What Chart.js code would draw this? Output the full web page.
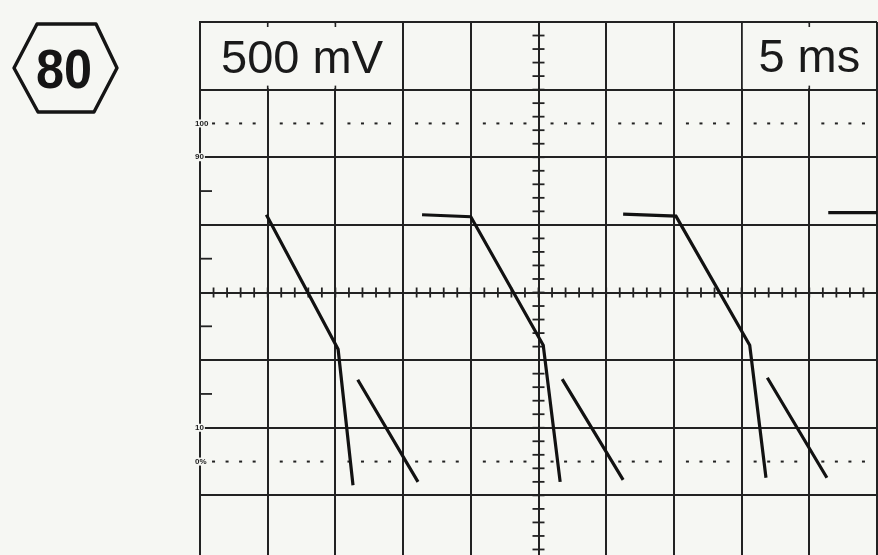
<!DOCTYPE html>
<html><head><meta charset="utf-8">
<script src="https://cdn.jsdelivr.net/npm/chart.js@4.4.1/dist/chart.umd.min.js"></script>
<style>
html,body{margin:0;padding:0;background:#f6f7f3;overflow:hidden;width:878px;height:555px;}
canvas{display:block;}
</style></head><body>
<canvas id="c" width="878" height="600"></canvas>
<script>
// Scope header labels
const voltsPerDiv = "500 mV";
const timePerDiv = "5 ms";
const badgeLabel = "80";
// Graticule: 10 horizontal divisions x 8 vertical divisions
const xDivMin = 0, xDivMax = 10;
const yDivMin = 0, yDivMax = 8;
// Rise-time graticule labels and their levels (divisions)
const riseLabels = ["100", "90", "10", "0%"];
const riseLevels = [6.5, 6, 2, 1.5];
// Trace: time (div) and voltage (div); null = beam blanked
const traceTime = [0.98, 2.04, 2.26, null, 2.33, 3.22, null, 3.28, 4.00, 5.07, 5.32, null, 5.35, 6.25, null, 6.25, 7.03, 8.12, 8.36, null, 8.38, 9.26, null, 9.28, 10.0];
const traceVolt = [5.15, 3.16, 1.15, null, 2.71, 1.20, null, 5.15, 5.12, 3.22, 1.20, null, 2.72, 1.23, null, 5.16, 5.13, 3.22, 1.26, null, 2.74, 1.26, null, 5.18, 5.18];

const BG = '#f6f7f3';
const INK = '#222222';

const tracePoints = traceTime.map((t, i) => ({ x: t, y: traceVolt[i] }));

function seg(ctx, x1, y1, x2, y2) { ctx.beginPath(); ctx.moveTo(x1, y1); ctx.lineTo(x2, y2); ctx.stroke(); }

const graticule = {
  id: 'graticule',
  beforeDatasetsDraw(chart) {
    const { ctx, scales: { x, y } } = chart;
    const px = v => x.getPixelForValue(v), py = v => y.getPixelForValue(v);
    ctx.save();
    // header boxes (inner grid lines blanked)
    ctx.fillStyle = BG;
    [[0, 3], [8, 10]].forEach(([a, b]) => {
      ctx.fillRect(px(a) + 1.2, py(8) + 1.2, px(b) - px(a) - 2.4, py(7) - py(8) - 2.4);
    });
    ctx.strokeStyle = INK; ctx.lineWidth = 1.6;
    [1, 2, 9].forEach(v => { seg(ctx, px(v), py(8), px(v), py(8) + 5); seg(ctx, px(v), py(7), px(v), py(7) - 4); });
    // centre-line minor ticks
    ctx.lineWidth = 1.8;
    for (let k = 0; k <= 50; k++) { const X = px(k * 0.2); seg(ctx, X, py(4) - 5, X, py(4) + 5); }
    for (let k = 0; k <= 40; k++) { const Y = py(k * 0.2); seg(ctx, px(5) - 6, Y, px(5) + 6, Y); }
    // left border half-division marks
    [5.5, 4.5, 3.5, 2.5].forEach(v => seg(ctx, px(0), py(v), px(0) + 12, py(v)));
    // dotted rise-time lines
    ctx.fillStyle = INK;
    [riseLevels[0], riseLevels[3]].forEach(lv => {
      const Y = py(lv);
      for (let k = 1; k < 50; k++) { if (k % 5 === 0) continue; const X = px(k * 0.2); ctx.fillRect(X - 1.5, Y - 1, 3, 2); }
    });
    // rise-time labels
    ctx.font = 'bold 8px "Liberation Sans", Arial, sans-serif';
    ctx.textAlign = 'left'; ctx.textBaseline = 'middle';
    riseLabels.forEach((t, i) => {
      const Y = py(riseLevels[i]);
      const w = ctx.measureText(t).width;
      ctx.fillStyle = BG; ctx.fillRect(px(0) - 6, Y - 4, w + 2, 8);
      ctx.fillStyle = INK; ctx.fillText(t, px(0) - 5, Y);
    });
    // header texts
    ctx.fillStyle = '#1a1a1a';
    ctx.font = '47px "Liberation Sans", Arial, sans-serif';
    ctx.textAlign = 'center'; ctx.textBaseline = 'alphabetic';
    ctx.fillText(voltsPerDiv, px(1.5) + 0.5, py(7.5) + 17);
    ctx.fillText(timePerDiv, px(9), py(7.5) + 16);
    ctx.restore();
  },
  afterDraw(chart) {
    const ctx = chart.ctx;
    ctx.save();
    ctx.strokeStyle = '#151515'; ctx.lineWidth = 3.4; ctx.lineJoin = 'round';
    ctx.beginPath();
    ctx.moveTo(14, 68); ctx.lineTo(37, 24); ctx.lineTo(96, 24);
    ctx.lineTo(117, 68); ctx.lineTo(94, 112); ctx.lineTo(38, 112); ctx.closePath();
    ctx.stroke();
    ctx.fillStyle = '#151515';
    ctx.font = 'bold 56px "Liberation Sans", Arial, sans-serif';
    ctx.textAlign = 'center'; ctx.textBaseline = 'alphabetic';
    ctx.save(); ctx.translate(64, 88); ctx.scale(0.9, 1);
    ctx.fillText(badgeLabel, 0, 0);
    ctx.restore();
    ctx.restore();
  }
};

new Chart(document.getElementById('c'), {
  type: 'line',
  data: {
    datasets: [{
      label: 'trace',
      data: tracePoints,
      borderColor: '#121212',
      borderWidth: 3.2,
      pointRadius: 0,
      tension: 0,
      spanGaps: false,
      fill: false
    }]
  },
  options: {
    responsive: false,
    animation: false,
    devicePixelRatio: 1,
    layout: { padding: { left: 200, top: 22, right: 1, bottom: 37 } },
    plugins: { legend: { display: false }, tooltip: { enabled: false }, title: { display: false } },
    scales: {
      x: {
        type: 'linear', min: xDivMin, max: xDivMax,
        ticks: { display: false, stepSize: 1 },
        grid: { color: INK, lineWidth: 2, drawTicks: false },
        border: { display: true, color: INK, width: 2 }
      },
      y: {
        type: 'linear', min: yDivMin, max: yDivMax,
        ticks: { display: false, stepSize: 1 },
        grid: { color: INK, lineWidth: 2, drawTicks: false },
        border: { display: true, color: INK, width: 2 }
      }
    }
  },
  plugins: [graticule]
});
</script>
</body></html>
